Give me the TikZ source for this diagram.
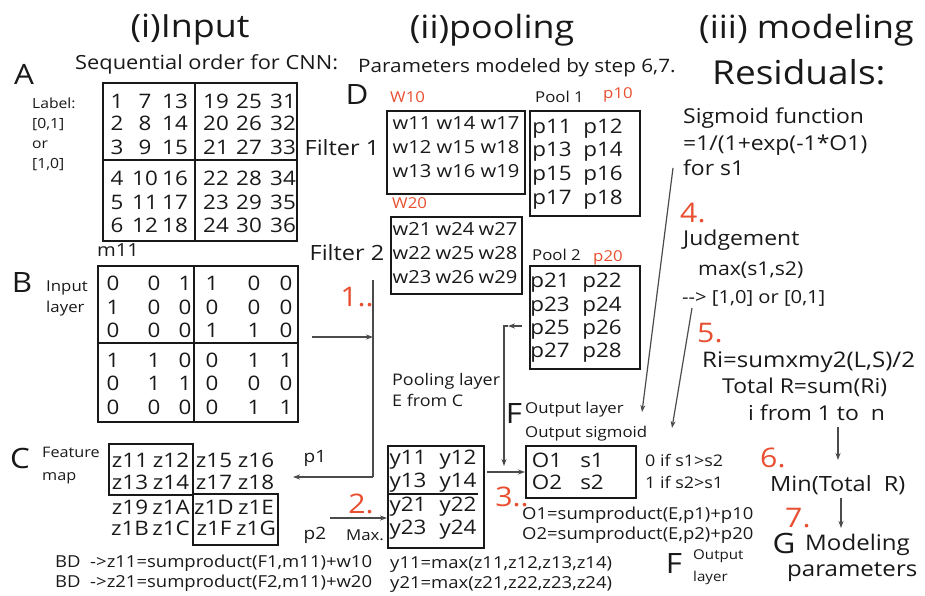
\documentclass[tikz,border=0pt]{standalone}
\usepackage{fontspec}
\setmainfont[FakeStretch=1.12]{Open Sans}
\usetikzlibrary{arrows.meta}
\definecolor{rednum}{RGB}{232,78,48}
\definecolor{ink}{RGB}{25,25,25}
\definecolor{wirec}{RGB}{75,75,75}
\newcommand\fsz[2]{\fontsize{#1}{#2}\selectfont}
\begin{document}
\begin{tikzpicture}[x=1pt,y=-1pt,
  every node/.style={inner sep=0pt,text=ink},
  title/.style={font=\fsz{32}{38}},
  biglet/.style={font=\fsz{28}{32}},
  sub/.style={font=\fsz{19.5}{22}},
  cell/.style={font=\fsz{20}{24}},
  wcell/.style={font=\fsz{18}{22}},
  lab/.style={font=\fsz{14}{20},align=left},
  txt/.style={font=\fsz{16.5}{21}},
  mid/.style={font=\fsz{20.5}{24}},
  redlab/.style={font=\fsz{15}{18},text=rednum},
  stepnum/.style={font=\fsz{27}{30},text=rednum},
  box/.style={draw=ink,line width=1.9pt},
  wire/.style={draw=wirec,line width=1.2pt},
  arr/.style={wire,-{Stealth[length=7pt,width=5pt]}}]
\useasboundingbox (0,0) rectangle (925,596);

% ---------- titles ----------
\node[title] (t1) at (190,30) {(i)Input};
\node[title] (t2) at (492,30) {(ii)pooling};
\node[title,anchor=west] (t3) at (699,30) {(iii) modeling};
\node[font=\fsz{33}{38},anchor=west] (t4) at (712,72) {Residuals:};
\node[sub,anchor=west] (s1) at (75,64) {Sequential order for CNN:};
\node[font=\fsz{18.5}{20},anchor=west] (s2) at (358,68) {Parameters modeled by step 6,7.};

% ---------- A ----------
\node[biglet] (lA) at (24,74) {A};
\node[lab,anchor=north west] (lbl) at (32,98) {Label:\\{[0,1]}\\or\\{[1,0]}};
\node[box,anchor=north west,minimum width=194pt,minimum height=158pt] (Abox) at (102,82) {};
\draw[box] (195,82) -- (195,240);
\draw[box] (102,160) -- (296,160);
\def\axs{{117,145,175,216,249,283}}
\def\ays{{101,123,147,178,202,225}}
\foreach \c in {0,...,5}{\foreach \r in {0,...,5}{
  \pgfmathsetmacro\xx{\axs[\c]}\pgfmathsetmacro\yy{\ays[\r]}
  \pgfmathtruncatemacro\v{6*\c+\r+1}
  \node[cell] (a\c\r) at (\xx,\yy) {\v};}}

% ---------- B ----------
\node[font=\fsz{18}{22}] (m11) at (118,250) {m11};
\node[biglet] (lB) at (22,283) {B};
\node[font=\fsz{15}{21},align=left,anchor=north west] (inl) at (46,281) {Input\\layer};
\node[box,anchor=north west,minimum width=200pt,minimum height=156pt] (Bbox) at (97,265) {};
\draw[box] (194,265) -- (194,421);
\draw[box] (97,343) -- (297,343);
\def\bxs{{113,154,185,212,254,286}}
\def\bys{{283,307,330,360,383,407}}
\foreach \row [count=\r from 0] in {{0,0,1,1,0,0},{1,0,0,0,0,0},{0,0,0,1,1,0},{1,1,0,0,1,1},{0,1,1,0,0,0},{0,0,0,0,1,1}}{
  \foreach \v [count=\c from 0] in \row {
    \pgfmathsetmacro\xx{\bxs[\c]}\pgfmathsetmacro\yy{\bys[\r]}
    \node[cell] (b\r\c) at (\xx,\yy) {\v};}}

% ---------- C ----------
\node[biglet] (lC) at (20,458) {C};
\node[font=\fsz{14.5}{23},align=left,anchor=north west] (fmap) at (42,447) {Feature\\map};
\node[box,anchor=north west,minimum width=84pt,minimum height=51pt] (Cb1) at (108,443) {};
\node[box,anchor=north west,minimum width=85pt,minimum height=51pt] (Cb2) at (192,493) {};
\foreach \t/\x/\y in {z11/130/460,z12/171/460,z15/214/460,z16/256/460,
  z13/130/482,z14/171/482,z17/214/482,z18/256/482,
  z19/130/507,z1A/171/507,z1D/214/507,z1E/256/507,
  z1B/130/528,z1C/171/528,z1F/214/528,z1G/256/528}
  \node[cell] (\t) at (\x,\y) {\t};
\node[txt,anchor=west] (bd1) at (55,563) {BD\ \ ->z11=sumproduct(F1,m11)+w10};
\node[txt,anchor=west] (bd2) at (55,583) {BD\ \ ->z21=sumproduct(F2,m11)+w20};
\node[font=\fsz{17}{20}] (p1l) at (315,458) {p1};
\node[font=\fsz{17}{20}] (p2l) at (315,535) {p2};
\node[font=\fsz{15}{18}] (maxl) at (365,535) {Max.};

% ---------- D ----------
\node[biglet] (lD) at (357,95) {D};
\node[redlab,anchor=west] (w10) at (390,97) {W10};
\node[font=\fsz{21}{24}] (f1) at (342,148) {Filter 1};
\node[box,anchor=north west,minimum width=138pt,minimum height=83pt] (F1box) at (386,110) {};
\foreach \t/\x/\y in {w11/412/123,w14/456/123,w17/500/123,
  w12/412/147,w15/456/147,w18/500/147,
  w13/412/171,w16/456/171,w19/500/171}
  \node[wcell] (\t) at (\x,\y) {\t};
\node[font=\fsz{15}{18},anchor=west] (pool1) at (535,97) {Pool 1};
\node[redlab,anchor=west] (p10) at (603,95) {p10};
\node[box,anchor=north west,minimum width=110pt,minimum height=105pt] (P1box) at (529,110) {};
\foreach \t/\x/\y in {p11/552/129,p12/603/129,p13/552/152,p14/603/152,
  p15/552/176,p16/603/176,p17/552/200,p18/603/200}
  \node[cell] (\t) at (\x,\y) {\t};

\node[redlab,anchor=west] (w20) at (392,203) {W20};
\node[font=\fsz{21}{24}] (f2) at (347,253) {Filter 2};
\node[box,anchor=north west,minimum width=131pt,minimum height=77pt] (F2box) at (390,216) {};
\foreach \t/\x/\y in {w21/412/229,w24/455/229,w27/498/229,
  w22/412/253,w25/455/253,w28/498/253,
  w23/412/277,w26/455/277,w29/498/277}
  \node[wcell] (\t) at (\x,\y) {\t};
\node[font=\fsz{15}{18},anchor=west] (pool2) at (532,255) {Pool 2};
\node[redlab,anchor=west] (p20) at (593,258) {p20};
\node[box,anchor=north west,minimum width=110pt,minimum height=103pt] (P2box) at (529,265) {};
\foreach \t/\x/\y in {p21/550/283,p22/602/283,p23/550/307,p24/602/307,
  p25/550/330,p26/602/330,p27/550/353,p28/602/353}
  \node[cell] (\t) at (\x,\y) {\t};

% ---------- E ----------
\node[font=\fsz{16}{21},align=left,anchor=north west] (plyr) at (392,373) {Pooling layer\\E from C};
\node[box,anchor=north west,minimum width=96pt,minimum height=102pt] (Ebox) at (387,445) {};
\draw[box] (387,494) -- (478,494);
\foreach \t/\x/\y in {y11/408/460,y12/458/460,y13/408/483,y14/458/483,
  y21/408/507,y22/458/507,y23/408/530,y24/458/530}
  \node[cell] (\t) at (\x,\y) {\t};
\node[txt,anchor=west] (ym1) at (390,565) {y11=max(z11,z12,z13,z14)};
\node[txt,anchor=west] (ym2) at (390,585) {y21=max(z21,z22,z23,z24)};

% ---------- F ----------
\node[biglet] (lF) at (514,414) {F};
\node[font=\fsz{15}{20},anchor=west] (ol) at (525,410) {Output layer};
\node[font=\fsz{15}{20},anchor=west] (os) at (525,434) {Output sigmoid};
\node[box,anchor=north west,minimum width=110pt,minimum height=52pt] (Obox) at (525,445) {};
\node[cell] (O1) at (547,460) {O1};
\node[cell] (s1n) at (592,460) {s1};
\node[cell] (O2) at (547,482) {O2};
\node[cell] (s2n) at (592,482) {s2};
\node[font=\fsz{16}{20},anchor=west] (if1) at (645,460) {0 if s1>s2};
\node[font=\fsz{16}{20},anchor=west] (if2) at (645,482) {1 if s2>s1};
\node[txt,anchor=west] (o1e) at (522,515) {O1=sumproduct(E,p1)+p10};
\node[txt,anchor=west] (o2e) at (522,535) {O2=sumproduct(E,p2)+p20};
\node[biglet] (lF2) at (674,563) {F};
\node[font=\fsz{13.5}{22},align=left,anchor=north west] (oly) at (693,550) {Output\\layer};

% ---------- modeling ----------
\node[mid,anchor=west] (sig1) at (683,118) {Sigmoid function};
\node[mid,anchor=west] (sig2) at (683,145) {=1/(1+exp(-1*O1)};
\node[mid,anchor=west] (sig3) at (683,168) {for s1};
\node[stepnum,anchor=west] (n4) at (680,213) {4.};
\node[mid,anchor=west] (jud) at (683,240) {Judgement};
\node[font=\fsz{19}{22},anchor=west] (mx) at (698,270) {max(s1,s2)};
\node[font=\fsz{18}{22},anchor=west] (arrt) at (682,298) {{-}{-}> [1,0] or [0,1]};
\node[stepnum,anchor=west] (n5) at (697,333) {5.};
\node[font=\fsz{21.5}{24},anchor=west] (ri) at (702,362) {Ri=sumxmy2(L,S)/2};
\node[mid,anchor=west] (tr) at (722,387) {Total R=sum(Ri)};
\node[mid,anchor=west] (ifr) at (748,413) {i from 1 to~~n};
\node[stepnum,anchor=west] (n6) at (760,458) {6.};
\node[font=\fsz{21}{24},anchor=west] (mint) at (770,485) {Min(Total~~R)};
\node[stepnum,anchor=west] (n7) at (785,518) {7.};
\node[biglet] (lG) at (784,543) {G};
\node[font=\fsz{21.5}{26},anchor=west] (mod) at (805,545) {Modeling};
\node[font=\fsz{21.5}{26},anchor=west] (par) at (787,572) {parameters};

% ---------- step numbers ----------
\node[stepnum] (n1) at (357,297) {1..};
\node[stepnum] (n2) at (361,504) {2.};
\node[stepnum] (n3) at (512,497) {3..};

% ---------- connectors ----------
\coordinate (bo) at (312,337);
\coordinate (vt) at (373,280);
\coordinate (vm) at (373,337);
\coordinate (vb) at (373,477);
\coordinate (ci) at (293,477);
\draw[arr] (bo) -- (vm);
\draw[wire] (vt) -- (vb);
\draw[arr] (vb) -- (ci);
\coordinate (mxs) at (330,518);
\draw[arr] (mxs) -- (mxs -| Ebox.west);
\coordinate (es) at (487,472);
\draw[arr] (es) -- (es -| Obox.west);
\coordinate (pa) at (522,326);
\coordinate (pb) at (508,326);
\coordinate (pc) at (504,326);
\coordinate (pd) at (504,466);
\draw[arr] (pa) -- (pb);
\draw[arr] (pb) -- (pc) -- (pd);
\coordinate (q1) at (673,168);
\coordinate (q2) at (642,412);
\draw[arr] (q1) -- (q2);
\coordinate (q3) at (692,308);
\coordinate (q4) at (672,428);
\draw[arr] (q3) -- (q4);
\coordinate (r1) at (838,427);
\coordinate (r2) at (838,460);
\draw[arr] (r1) -- (r2);
\coordinate (r3) at (841,498);
\coordinate (r4) at (841,528);
\draw[arr] (r3) -- (r4);
\end{tikzpicture}
\end{document}
